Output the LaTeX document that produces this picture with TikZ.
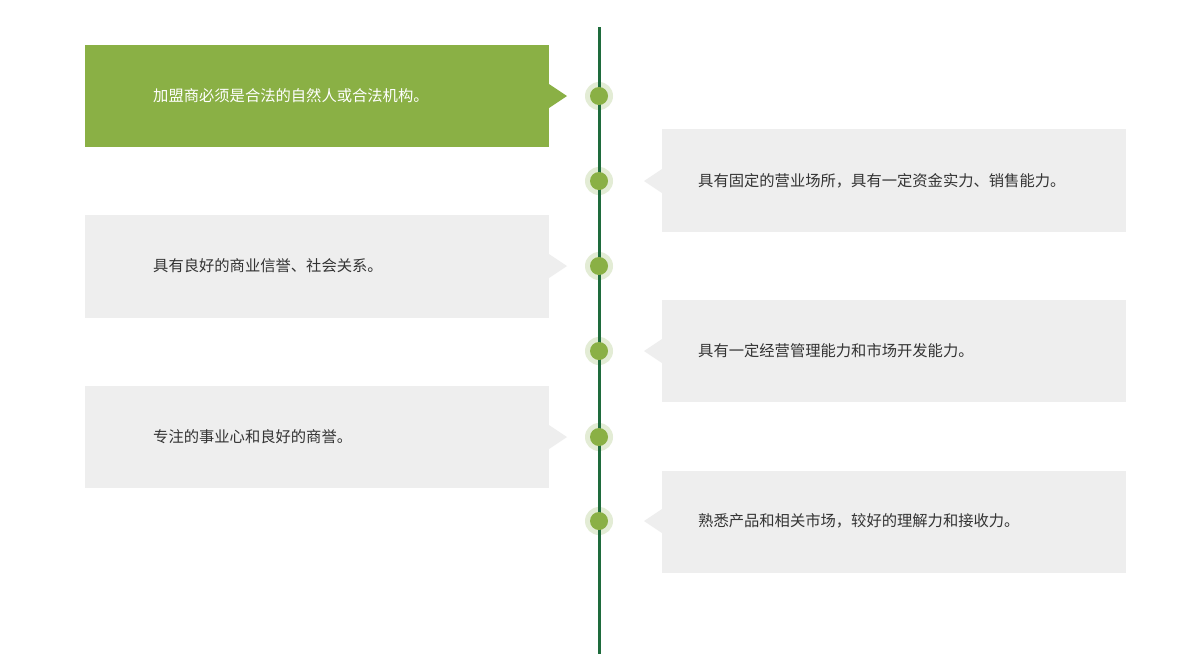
\documentclass[tikz,border=0pt]{standalone}
\usepackage{fontspec}
\newfontfamily\cjk{Noto Sans CJK SC}
\definecolor{boxgreen}{HTML}{8AB045}
\definecolor{boxgray}{HTML}{EEEEEE}
\definecolor{linegreen}{HTML}{1E6B3C}
\definecolor{halo}{HTML}{E3ECD5}
\begin{document}
\begin{tikzpicture}[x=1pt,y=-1pt,
  txt/.style={anchor=west,inner sep=0pt,font=\cjk\fontsize{15.3}{17}\selectfont},
  dotin/.style={circle,fill=boxgreen,minimum size=18pt,inner sep=0pt},
  dothalo/.style={circle,fill=halo,minimum size=28pt,inner sep=0pt}]
\useasboundingbox (0,0) rectangle (1200,654);
\fill[white] (0,0) rectangle (1200,654);
% left boxes
\fill[boxgreen] (85,45) rectangle (549,147);
\fill[boxgreen] (549,84) -- (567,96) -- (549,108) -- cycle;
\fill[boxgray] (85,215) rectangle (549,318);
\fill[boxgray] (549,254) -- (567,266) -- (549,278) -- cycle;
\fill[boxgray] (85,386) rectangle (549,488);
\fill[boxgray] (549,425) -- (567,437) -- (549,449) -- cycle;
% right boxes
\fill[boxgray] (662,129) rectangle (1126,232);
\fill[boxgray] (662,169) -- (644,181) -- (662,193) -- cycle;
\fill[boxgray] (662,300) rectangle (1126,402);
\fill[boxgray] (662,339) -- (644,351) -- (662,363) -- cycle;
\fill[boxgray] (662,471) rectangle (1126,573);
\fill[boxgray] (662,509) -- (644,521) -- (662,533) -- cycle;
% halos
\foreach \yy/\n in {96/a,181/b,266/c,351/d,437/e,521/f}
  \node[dothalo] (h\n) at (599,\yy) {};
% timeline
\coordinate (top) at (599,27);
\coordinate (bot) at (599,654);
\draw[linegreen,line width=3pt] (top) -- (bot);
\foreach \yy/\n in {96/a,181/b,266/c,351/d,437/e,521/f}
  \node[dotin] (d\n) at (599,\yy) {};
% texts
\node[txt,text=white] (t1) at (153,96) {加盟商必须是合法的自然人或合法机构。};
\node[txt,text=black!80] (t2) at (698,181) {具有固定的营业场所，具有一定资金实力、销售能力。};
\node[txt,text=black!80] (t3) at (153,266) {具有良好的商业信誉、社会关系。};
\node[txt,text=black!80] (t4) at (698,351) {具有一定经营管理能力和市场开发能力。};
\node[txt,text=black!80] (t5) at (153,437) {专注的事业心和良好的商誉。};
\node[txt,text=black!80] (t6) at (698,521) {熟悉产品和相关市场，较好的理解力和接收力。};
\end{tikzpicture}
\end{document}
